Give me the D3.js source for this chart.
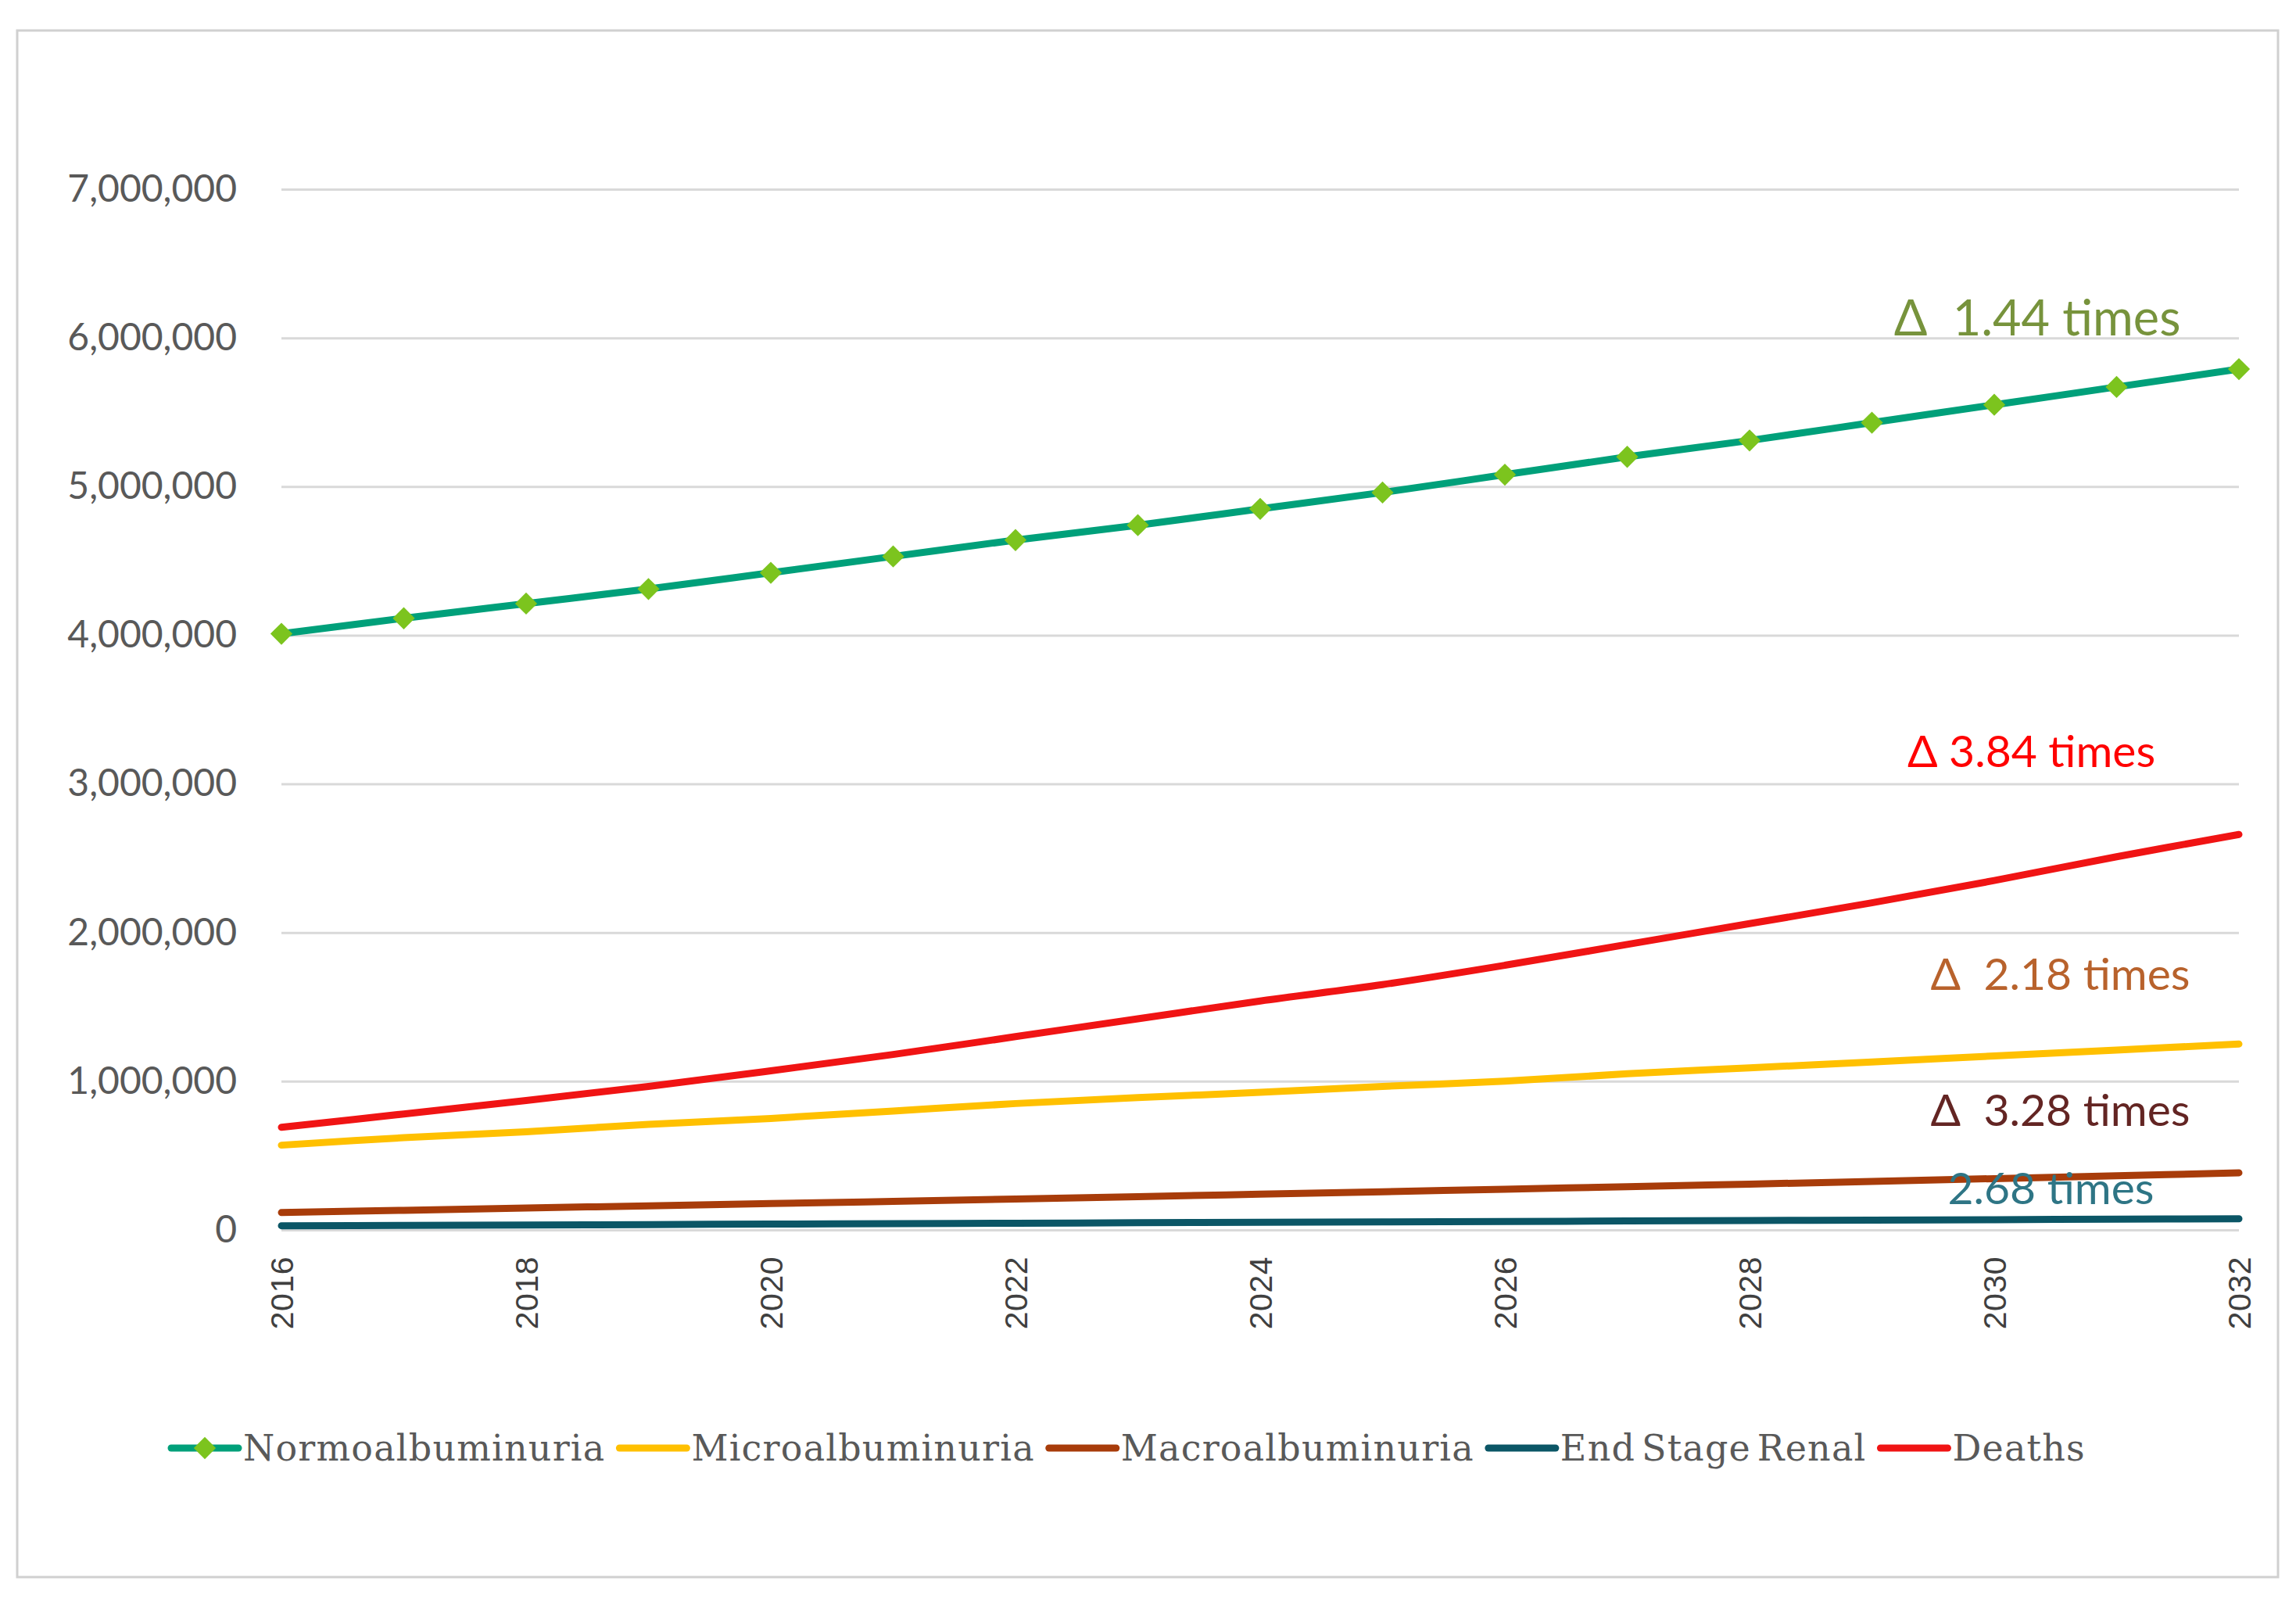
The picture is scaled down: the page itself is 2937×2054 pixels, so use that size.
<!DOCTYPE html>
<html>
<head>
<meta charset="utf-8">
<script src="https://cdnjs.cloudflare.com/ajax/libs/d3/7.8.5/d3.min.js"></script>
<style>
  body { margin: 0; background: #fff; }
  svg { display: block; }
</style>
</head>
<body>
<div id="chart"></div>
<script>
// values
var years = [2016, 2017, 2018, 2019, 2020, 2021, 2022, 2023, 2024, 2025, 2026, 2027, 2028, 2029, 2030, 2031, 2032];
var normo = [4010000, 4114000, 4213000, 4311000, 4420000, 4530000, 4640000, 4740000, 4850000, 4960000, 5080000, 5200000, 5310000, 5430000, 5550000, 5670000, 5790000];
var micro = [570000, 620000, 660000, 710000, 750000, 800000, 850000, 890000, 925000, 965000, 1000000, 1050000, 1090000, 1130000, 1170000, 1210000, 1250000];
var macro = [117000, 132000, 147000, 162000, 177000, 192000, 208000, 224000, 240000, 257000, 274000, 291000, 308000, 326000, 345000, 364000, 384000];
var esrd = [28000, 30000, 33000, 36000, 39000, 42000, 45000, 48000, 51000, 54000, 57000, 60000, 63000, 66000, 69000, 72000, 75000];
var deaths = [690000, 780000, 870000, 965000, 1070000, 1180000, 1300000, 1420000, 1540000, 1650000, 1780000, 1920000, 2060000, 2200000, 2350000, 2510000, 2660000];

var seriesNames = ["Normoalbuminuria", "Microalbuminuria", "Macroalbuminuria", "End Stage Renal", "Deaths"];
var seriesValues = [normo, micro, macro, esrd, deaths];
var seriesColors = ["#00a07a", "#ffc000", "#a83c0a", "#0b5666", "#f01414"];

var yTicks = [0, 1000000, 2000000, 3000000, 4000000, 5000000, 6000000, 7000000];
var xTicks = [2016, 2018, 2020, 2022, 2024, 2026, 2028, 2030, 2032];

var changeLabels = ["\u0394  1.44 times", "\u0394 3.84 times", "\u0394  2.18 times", "\u0394  3.28 times", "2.68 times"];
var changeColors = ["#77933c", "#ff0000", "#b8622c", "#632523", "#2e7585"];

var W = 2937, H = 2054;
var margin = {left: 360, right: 73, top: 242, bottom: 481};

var svg = d3.select("#chart").append("svg")
    .attr("width", W)
    .attr("height", H);

svg.append("rect")
    .attr("x", 22).attr("y", 39)
    .attr("width", 2892).attr("height", 1978)
    .attr("fill", "#fff")
    .attr("stroke", "#d0d0d0")
    .attr("stroke-width", 3);

var x = d3.scaleLinear().domain([2016, 2032]).range([margin.left, W - margin.right]);
var y = d3.scaleLinear().domain([0, 7000000]).range([H - margin.bottom, margin.top]);

// y axis + gridlines
var yAxis = svg.append("g")
    .attr("transform", "translate(" + margin.left + ",0)")
    .call(d3.axisLeft(y)
      .tickValues(yTicks)
      .tickSize(-(W - margin.left - margin.right))
      .tickPadding(57)
      .tickFormat(d3.format(",")));
yAxis.select(".domain").remove();
yAxis.selectAll("line").attr("stroke", "#d9d9d9").attr("stroke-width", 3);
yAxis.selectAll("text")
    .attr("fill", "#595959")
    .style("font-family", "Lato, sans-serif")
    .style("font-size", "48px");

// x axis, rotated labels
var xAxis = svg.append("g")
    .attr("transform", "translate(0," + (H - margin.bottom) + ")")
    .call(d3.axisBottom(x).tickValues(xTicks).tickSize(0).tickFormat(d3.format("d")));
xAxis.select(".domain").remove();
xAxis.selectAll("text")
    .attr("transform", "rotate(-90)")
    .attr("text-anchor", "end")
    .attr("x", -34)
    .attr("y", 0)
    .attr("dy", "0.36em")
    .attr("fill", "#404040")
    .style("font-family", "'Liberation Sans', Arial, sans-serif")
    .style("font-size", "41px")
    .style("letter-spacing", "0.5px");

// lines, drawn bottom-up like the reference
var line = d3.line()
    .x(function(d, i) { return x(years[i]); })
    .y(function(d) { return y(d); })
    .curve(d3.curveCatmullRom);

var drawOrder = [3, 2, 1, 4, 0];
drawOrder.forEach(function(k) {
  svg.append("path")
      .datum(seriesValues[k])
      .attr("fill", "none")
      .attr("stroke", seriesColors[k])
      .attr("stroke-width", 9)
      .attr("stroke-linecap", "round")
      .attr("d", line);
});

var diamond = d3.symbol().type(d3.symbolSquare).size(400);
svg.selectAll(".marker")
    .data(normo)
    .enter().append("path")
    .attr("class", "marker")
    .attr("transform", function(d, i) { return "translate(" + x(years[i]) + "," + y(d) + ") rotate(45)"; })
    .attr("d", diamond)
    .attr("fill", "#7cc41e");

// change annotations
var annAt = [[2029.18, 6018000], [2029.29, 3114000], [2029.48, 1615000], [2029.48, 700000], [2029.62, 174000]];
var annSize = [63, 57, 57, 57, 57];
svg.selectAll(".ann")
    .data(changeLabels)
    .enter().append("text")
    .attr("class", "ann")
    .attr("x", function(d, i) { return x(annAt[i][0]); })
    .attr("y", function(d, i) { return y(annAt[i][1]); })
    .attr("fill", function(d, i) { return changeColors[i]; })
    .style("font-family", "Lato, sans-serif")
    .style("font-size", function(d, i) { return annSize[i] + "px"; })
    .style("white-space", "pre")
    .text(function(d) { return d; });

// legend
var legend = svg.append("g").attr("transform", "translate(219,1852)");
var lx = 0;
seriesNames.forEach(function(name, k) {
  legend.append("line")
      .attr("x1", lx).attr("x2", lx + 86)
      .attr("y1", 0).attr("y2", 0)
      .attr("stroke", seriesColors[k])
      .attr("stroke-width", 9)
      .attr("stroke-linecap", "round");
  if (k === 0) {
    legend.append("path")
        .attr("transform", "translate(" + (lx + 43) + ",0) rotate(45)")
        .attr("d", diamond)
        .attr("fill", "#7cc41e");
  }
  var t = legend.append("text")
      .attr("x", lx + 92)
      .attr("y", 0)
      .attr("dy", "0.35em")
      .attr("fill", "#595959")
      .style("font-family", "'DejaVu Serif', serif")
      .style("font-size", "46px")
      .style("letter-spacing", "1.2px")
      .style("word-spacing", "-8px")
      .text(name);
  lx += 92 + t.node().getComputedTextLength() + 18;
});
</script>
</body>
</html>
